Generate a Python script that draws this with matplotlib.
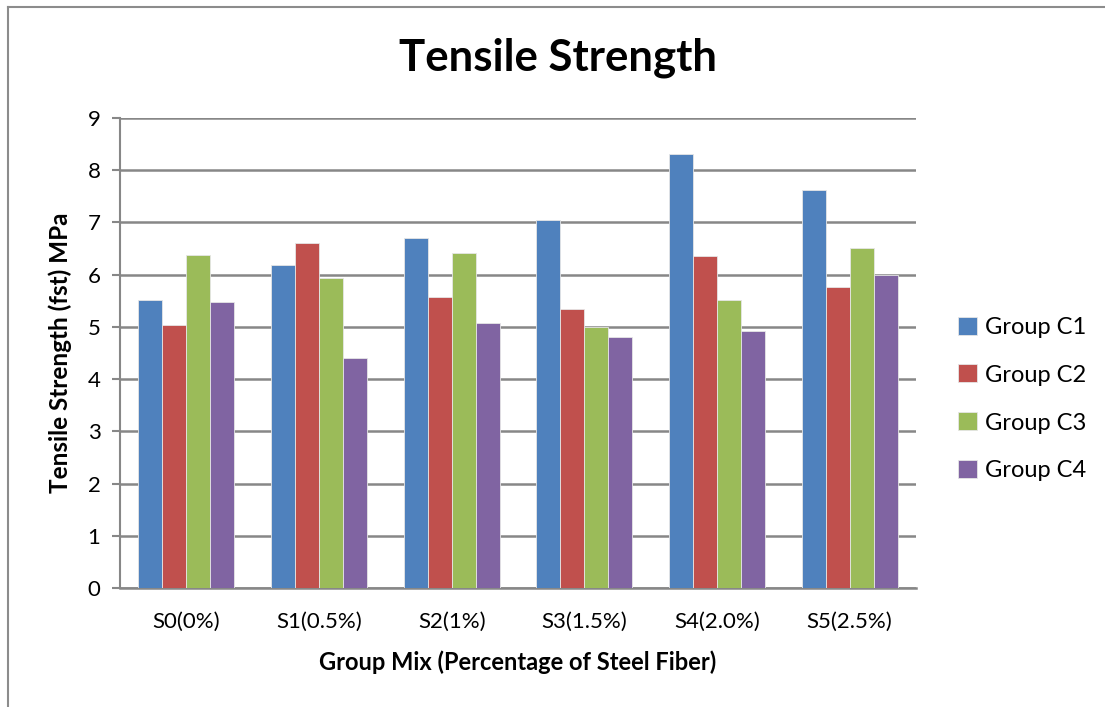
import matplotlib
matplotlib.use("Agg")
import matplotlib.pyplot as plt
import numpy as np

plt.rcParams['font.family'] = ['Lato', 'DejaVu Sans']

# tensile strength (MPa) per mix, one list per group
mixes = ["S0(0%)", "S1(0.5%)", "S2(1%)", "S3(1.5%)", "S4(2.0%)", "S5(2.5%)"]
groups = ["Group C1", "Group C2", "Group C3", "Group C4"]
c1 = [5.51, 6.18, 6.71, 7.05, 8.31, 7.62]
c2 = [5.03, 6.60, 5.57, 5.34, 6.36, 5.76]
c3 = [6.38, 5.94, 6.42, 5.00, 5.51, 6.51]
c4 = [5.48, 4.41, 5.08, 4.80, 4.92, 6.00]
colors = ['#4F81BD', '#C0504D', '#9BBB59', '#8064A2']

W, H = 1105, 707
fig = plt.figure(figsize=(W / 100, H / 100), dpi=100)
fig.patch.set_facecolor('white')

# chart frame: top and left edges only
fig.add_artist(plt.Line2D([8 / W, 1.0], [1 - 7 / H, 1 - 7 / H], transform=fig.transFigure,
                          color='#8c8c8c', linewidth=1.5))
fig.add_artist(plt.Line2D([8 / W, 8 / W], [0.0, 1 - 7 / H], transform=fig.transFigure,
                          color='#8c8c8c', linewidth=1.5))

ax = fig.add_axes([120 / W, (H - 588) / H, 796 / W, 470 / H])

x = np.arange(len(mixes))
bw = 0.181
for i, (vals, name) in enumerate(zip([c1, c2, c3, c4], groups)):
    ax.bar(x + (i - 1.5) * bw, vals, bw, color=colors[i], label=name,
           edgecolor='#e6e6e6', linewidth=0.6, zorder=3)

ax.set_xlim(-0.5, len(mixes) - 0.5)
ax.set_ylim(0, 9)
ax.set_yticks(range(0, 10))
ax.set_xticks(x)
ax.set_xticklabels(mixes)
ax.yaxis.grid(True, color='#878787', linewidth=1.8, zorder=0)
ax.set_axisbelow(True)
for s in ['top', 'right']:
    ax.spines[s].set_visible(False)
ax.spines['left'].set_color('#878787')
ax.spines['bottom'].set_color('#878787')
ax.spines['left'].set_linewidth(1.5)
ax.spines['bottom'].set_linewidth(1.8)
ax.tick_params(axis='y', length=6, color='#878787', width=1.5, labelsize=16, pad=8)
ax.tick_params(axis='x', length=0, labelsize=16, pad=17)

ax.set_ylabel("Tensile Strength (fst) MPa", fontsize=17.5, fontweight='bold')
ax.set_xlabel("Group Mix (Percentage of Steel Fiber)", fontsize=17, fontweight='bold')
ax.yaxis.set_label_coords(-0.0754, 0.5)
ax.xaxis.set_label_coords(0.5, -0.157)
ax.yaxis.label.set_va('center')
ax.xaxis.label.set_va('center')

fig.text(558 / W, 1 - 58 / H, "Tensile Strength", fontsize=31.5, fontweight='bold',
         ha='center', va='center')

ax.legend(loc='center left', bbox_to_anchor=(937 / W, (H - 399) / H),
          bbox_transform=fig.transFigure, frameon=False, fontsize=17,
          handlelength=0.8, handleheight=0.8, handletextpad=0.35, labelspacing=1.13)

fig.savefig("out.png", dpi=100, facecolor='white')
